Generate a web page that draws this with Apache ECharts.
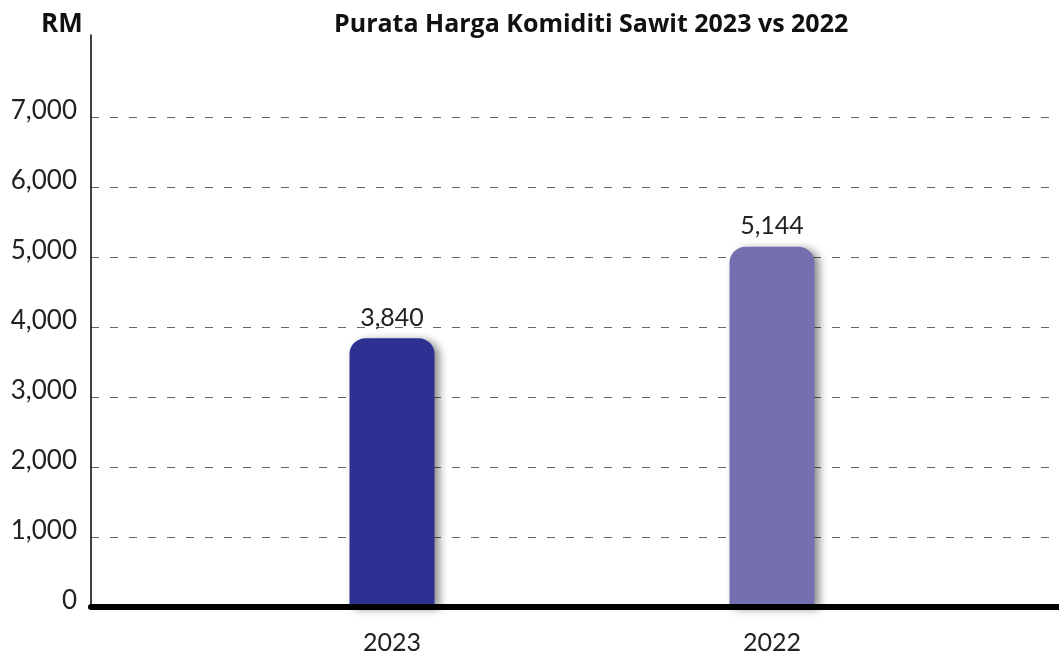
<!DOCTYPE html>
<html>
<head>
<meta charset="utf-8">
<script src="https://cdn.jsdelivr.net/npm/echarts@6/dist/echarts.min.js"></script>
<style>
html,body{margin:0;padding:0;background:#fff;}
#c{width:1059px;height:655px;}
</style>
</head>
<body>
<div id="c"></div>
<script>
const categories = ['2023', '2022'];
const values = [3840, 5144];
const barColors = ['#2E3192', '#7470B0'];
const titleText = 'Purata Harga Komiditi Sawit 2023 vs 2022';
const unitText = 'RM';
const yMin = 0;
const yMax = 8170;
const yInterval = 1000;
const lastLabelled = 7000;

const FONT = 'Lato, "Noto Sans", sans-serif';
const TFONT = '"Open Sans", "Noto Sans", sans-serif';
const chart = echarts.init(document.getElementById('c'), null, {renderer: 'canvas'});

// splitLine colours: one per drawn gridline (1000..8000), hide the 8000 line
const gridColors = [];
for (let v = yInterval; v <= 8000; v += yInterval) {
  gridColors.push(v <= lastLabelled ? '#666' : 'rgba(0,0,0,0)');
}

const option = {
  backgroundColor: '#fff',
  animation: false,
  title: [
    {text: titleText, left: 329, top: 7,
     textStyle: {fontFamily: TFONT, fontSize: 25, fontWeight: 'bold', color: '#111'}},
    {text: unitText, left: 36, top: 7,
     textStyle: {fontFamily: TFONT, fontSize: 26, fontWeight: 'bold', color: '#111'}}
  ],
  grid: [
    {left: 91, right: 0, top: 35, bottom: 48, containLabel: false},
    {left: 202, right: 97, top: 35, bottom: 48, containLabel: false}
  ],
  xAxis: [
    {gridIndex: 0, type: 'value', min: 0, max: 1, z: 10,
     axisLine: {show: true, lineStyle: {color: '#000', width: 6}},
     axisTick: {show: false}, axisLabel: {show: false}, splitLine: {show: false}},
    {gridIndex: 1, type: 'category', data: categories, boundaryGap: true,
     axisLine: {show: false}, axisTick: {show: false},
     axisLabel: {fontFamily: FONT, fontSize: 25, color: '#222', margin: 23},
     splitLine: {show: false}}
  ],
  yAxis: [
    {gridIndex: 0, type: 'value', min: yMin, max: yMax, interval: yInterval,
     axisLine: {show: true, lineStyle: {color: '#000', width: 1.5}},
     axisTick: {show: false},
     axisLabel: {fontFamily: FONT, fontSize: 26, color: '#222', margin: 14,
       verticalAlign: 'bottom', lineHeight: 12,
       formatter: function (v) { return v > lastLabelled ? '' : v.toLocaleString('en-US'); }},
     splitLine: {show: true, showMinLine: false, showMaxLine: false,
       lineStyle: {color: gridColors, width: 1.2, type: [8, 11]}}},
    {gridIndex: 1, type: 'value', min: yMin, max: yMax, interval: yInterval, show: false,
     splitLine: {show: false}}
  ],
  series: [
    {type: 'bar', xAxisIndex: 1, yAxisIndex: 1, barWidth: 85, z: 2,
     data: values.map(function (v, i) {
       return {value: v, itemStyle: {color: barColors[i]}};
     }),
     itemStyle: {borderRadius: [16, 16, 0, 0], shadowBlur: 8,
       shadowColor: 'rgba(0,0,0,0.45)', shadowOffsetX: 5, shadowOffsetY: 2},
     label: {show: true, position: 'top', distance: 8, fontFamily: FONT, fontSize: 25, color: '#222',
       formatter: function (p) { return p.value.toLocaleString('en-US'); }}}
  ]
};
chart.setOption(option);
</script>
</body>
</html>
